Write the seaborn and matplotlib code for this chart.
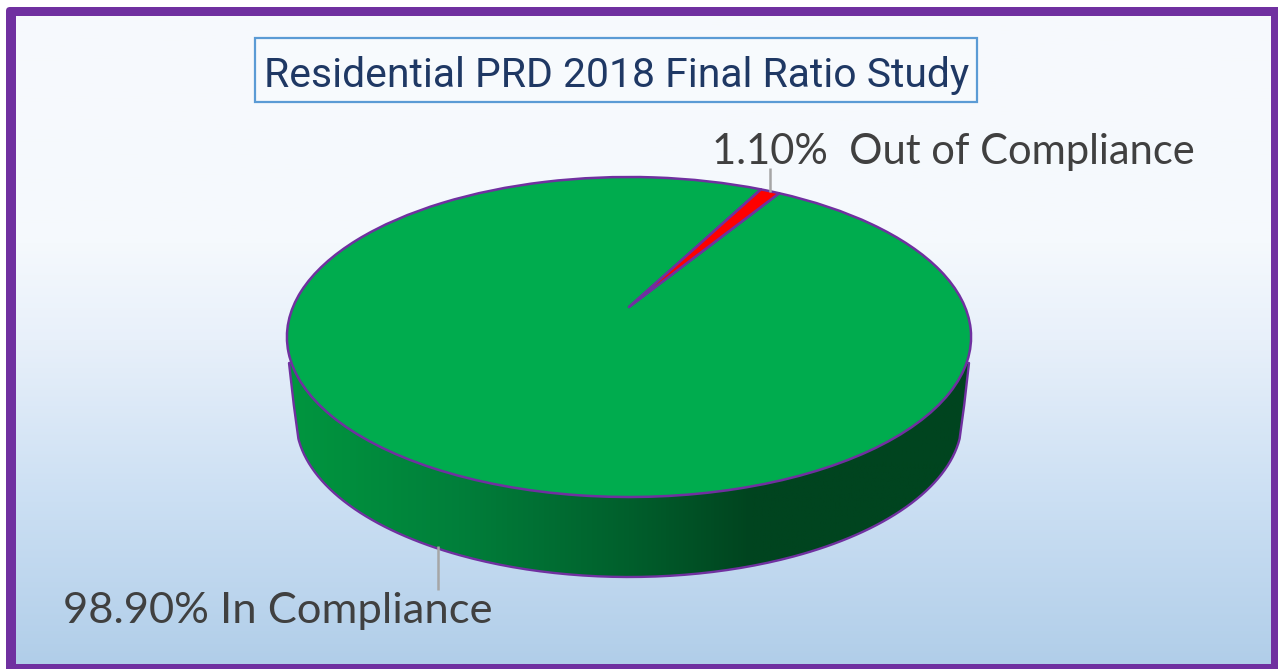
import numpy as np
import matplotlib
matplotlib.use("Agg")
import matplotlib.pyplot as plt
import seaborn as sns
from matplotlib.colors import LinearSegmentedColormap
from matplotlib.patches import FancyBboxPatch, PathPatch, Rectangle
from matplotlib.path import Path
from matplotlib.transforms import Transform

# ---- data ----
categories = ["In Compliance", "Out of Compliance"]
values = [98.90, 1.10]
label_gaps = [" ", "  "]
title_text = "Residential PRD 2018 Final Ratio Study"

# ---- styles ----
PURPLE = "#7030A0"
slice_colors = sns.color_palette(["#00AC4E", "#FF0000"])
bg_cmap = LinearSegmentedColormap.from_list("bg", [
    (0.00, "#F7FAFD"), (0.35, "#F5F9FD"), (0.50, "#E8F0FA"),
    (0.75, "#CBDFF3"), (1.00, "#B1CEE9")])
wall_cmap = LinearSegmentedColormap.from_list("wall", [
    (0.00, "#00963F"), (0.25, "#007F3A"), (0.50, "#005F2C"),
    (0.68, "#00441F"), (1.00, "#00441F")])

sns.set_theme(style="white")


class DiskPerspective(Transform):
    """Maps the unit pie onto the tilted top face (image pixels)."""
    input_dims = output_dims = 2
    is_separable = False
    has_inverse = False
    k, a, b, c = 0.1875, 336.0, 160.0, 30.0
    cx, cy = 629.0, 337.0

    def transform_non_affine(self, xy):
        xy = np.asarray(xy, float)
        w = 1 + self.k * xy[:, 1]
        return np.column_stack([self.cx + self.a * xy[:, 0] / w,
                                self.cy - (self.b * xy[:, 1] + self.c) / w])


fig = plt.figure(figsize=(12.78, 6.69), dpi=100, facecolor="white")
ax = fig.add_axes([0, 0, 1, 1])

wedges, _ = ax.pie(values, colors=slice_colors, startangle=62.73, radius=1.0,
                   wedgeprops=dict(edgecolor=PURPLE, linewidth=1.8, joinstyle="round"))
ax.set_aspect("auto")
ax.set_xlim(0, 1278)
ax.set_ylim(669, 0)
ax.axis("off")

persp = DiskPerspective()
for w in wedges:
    w.set_transform(persp + ax.transData)
    w.set_clip_on(False)
    w.set_zorder(4)

# frame and background
ax.add_patch(FancyBboxPatch((6, 7), 1290, 680, boxstyle="round,pad=0,rounding_size=4",
                            facecolor=PURPLE, edgecolor="none", zorder=0))
ax.imshow(np.linspace(0, 1, 256)[:, None], cmap=bg_cmap, aspect="auto",
          extent=(16, 1271, 664, 16), zorder=1)

# pie side wall
t = np.linspace(0.12, np.pi - 0.12, 200)
low_x = 629 + 333 * np.cos(t)
low_y = 420 + 157 * np.sin(t)
wall_xy = np.vstack([[[629, 337], [969, 363], [964.2, 405]],
                     np.column_stack([low_x, low_y]),
                     [[293.8, 405], [289, 363], [629, 337]]])
wall_path = Path(wall_xy, closed=False)
ax.add_patch(PathPatch(wall_path, facecolor="none", edgecolor=PURPLE, lw=1.7,
                       joinstyle="round", zorder=3))
grad = ax.imshow(np.linspace(0, 1, 512)[None, :], cmap=wall_cmap, aspect="auto",
                 extent=(289, 969, 600, 330), zorder=2)
grad.set_clip_path(PathPatch(wall_path, transform=ax.transData))
ax.set_xlim(0, 1278)
ax.set_ylim(669, 0)

# leader lines
ax.plot([770, 770], [168, 192], color="#A6A6A6", lw=1.8, zorder=5, solid_capstyle="butt")
ax.plot([438, 438], [546, 590], color="#A6A6A6", lw=1.8, zorder=5, solid_capstyle="butt")

# labels
lab_kw = dict(family="Lato", color="#404040", zorder=6, va="baseline", ha="left")
ax.text(712, 164, f"{values[1]:.2f}%{label_gaps[1]}{categories[1]}", fontsize=30, **lab_kw)
ax.text(63, 623, f"{values[0]:.2f}%{label_gaps[0]}{categories[0]}", fontsize=31.3, **lab_kw)

# title box
ax.add_patch(Rectangle((255, 38), 722, 64, facecolor="#F7FAFD", edgecolor="#5B9BD5",
                       lw=1.6, zorder=5))
ax.text(616.5, 87, title_text, family="Roboto", fontsize=29.4, color="#1F3864",
        ha="center", va="baseline", zorder=6)

fig.savefig("out.png", dpi=100, facecolor="white")
